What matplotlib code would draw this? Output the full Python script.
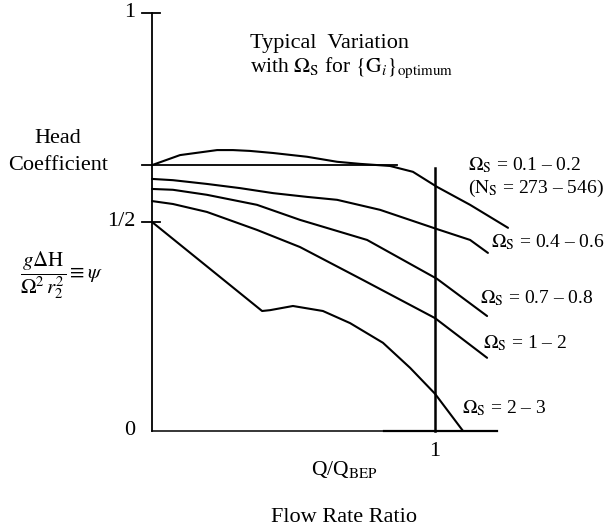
import matplotlib
matplotlib.use("Agg")
import matplotlib.pyplot as plt

plt.rcParams['font.family'] = ['Liberation Serif', 'DejaVu Serif']
plt.rcParams['mathtext.fontset'] = 'stix'

# ---- data ----
q1 = [0, 0.099, 0.230, 0.286, 0.346, 0.428, 0.548, 0.654, 0.735, 0.841, 0.922, 1.007, 1.124, 1.258]
psi1 = [0.636, 0.660, 0.672, 0.672, 0.670, 0.665, 0.656, 0.644, 0.639, 0.634, 0.620, 0.584, 0.541, 0.486]

q2 = [0, 0.074, 0.194, 0.311, 0.428, 0.548, 0.654, 0.806, 1.007, 1.124, 1.187]
psi2 = [0.603, 0.600, 0.591, 0.581, 0.569, 0.560, 0.553, 0.529, 0.483, 0.457, 0.426]

q3 = [0, 0.074, 0.194, 0.371, 0.523, 0.760, 1.007, 1.184]
psi3 = [0.579, 0.577, 0.565, 0.541, 0.505, 0.457, 0.364, 0.275]

q4 = [0, 0.074, 0.194, 0.371, 0.523, 0.746, 1.0, 1.184]
psi4 = [0.550, 0.543, 0.524, 0.481, 0.440, 0.361, 0.270, 0.175]

q5 = [0, 0.389, 0.417, 0.498, 0.604, 0.700, 0.816, 0.912, 1.0, 1.099]
psi5 = [0.500, 0.287, 0.289, 0.299, 0.287, 0.258, 0.211, 0.151, 0.089, 0.0]

shutoff_psi = 0.636      # horizontal reference line
shutoff_q_end = 0.866
bep_q = 1.0
bep_top = 0.63

series_labels = [r'$\Omega_{\mathrm{S}}$ = 0.1 – 0.2',
                 r'$\Omega_{\mathrm{S}}$ = 0.4 – 0.6',
                 r'$\Omega_{\mathrm{S}}$ = 0.7 – 0.8',
                 r'$\Omega_{\mathrm{S}}$ = 1 – 2',
                 r'$\Omega_{\mathrm{S}}$ = 2 – 3']
ns_label = r'($\mathrm{N}_{\mathrm{S}}$ = 273 – 546)'
ytick_vals = [0, 0.5, 1]
ytick_labels = ['0', '1/2', '1']
xtick_vals = [1]
xtick_labels = ['1']

# ---- figure ----
fig = plt.figure(figsize=(6.04, 5.27), dpi=100)
ax = fig.add_axes([0.2048, 0.1505, 0.6794, 0.8566])
ax.set_xlim(-0.1, 1.35)
ax.set_ylim(-0.04, 1.04)
ax.axis('off')

lw = 1.5
for q, p in [(q1, psi1), (q2, psi2), (q3, psi3), (q4, psi4), (q5, psi5)]:
    ax.plot(q, p, color='black', lw=lw, solid_capstyle='round', solid_joinstyle='round')

# axes lines
ax.plot([0, 0], [0, 1.0], color='black', lw=1.3)
ax.plot([0, 1.22], [0, 0], color='black', lw=1.1)
ax.plot([0.82, 1.22], [0, 0], color='black', lw=1.6)
# horizontal shutoff line
ax.plot([-0.035, shutoff_q_end], [shutoff_psi, shutoff_psi], color='black', lw=1.3)
# BEP vertical line
ax.plot([bep_q, bep_q], [0, bep_top], color='black', lw=1.8)

# ticks
for v, lab in zip(ytick_vals, ytick_labels):
    if v > 0:
        ax.plot([-0.035, 0.028], [v, v], color='black', lw=1.3)
    ax.text(-0.06, v, lab, ha='right', va='center', fontsize=16)
for v, lab in zip(xtick_vals, xtick_labels):
    ax.text(v, -0.05, lab, ha='center', va='center', fontsize=16)

# axis labels
ax.text(-0.332, 0.700, 'Head', ha='center', va='center', fontsize=16)
ax.text(-0.332, 0.634, 'Coefficient', ha='center', va='center', fontsize=16)
ax.text(-0.468, 0.372, r'$\dfrac{g\Delta \mathrm{H}}{\Omega^2\, r_2^2}\equiv\psi$',
        ha='left', va='center', fontsize=15)
ax.text(0.68, -0.093, r'Q/Q$_{\mathrm{BEP}}$', ha='center', va='center', fontsize=15.5)
ax.text(0.68, -0.206, 'Flow Rate Ratio', ha='center', va='center', fontsize=16)

# title
ax.text(0.346, 0.928, 'Typical  Variation', ha='left', va='center', fontsize=16)
ax.text(0.346, 0.868, r'with $\Omega_{\mathrm{S}}$ for $\{\mathrm{G}_i\}_{\mathrm{optimum}}$',
        ha='left', va='center', fontsize=15.5)

# curve labels
fs = 14
ax.text(1.117, 0.636, series_labels[0], ha='left', va='center', fontsize=fs)
ax.text(1.117, 0.581, ns_label, ha='left', va='center', fontsize=fs)
ax.text(1.198, 0.452, series_labels[1], ha='left', va='center', fontsize=fs)
ax.text(1.159, 0.318, series_labels[2], ha='left', va='center', fontsize=fs)
ax.text(1.170, 0.211, series_labels[3], ha='left', va='center', fontsize=fs)
ax.text(1.095, 0.055, series_labels[4], ha='left', va='center', fontsize=fs)

fig.savefig('out.png', dpi=100, facecolor='white')
